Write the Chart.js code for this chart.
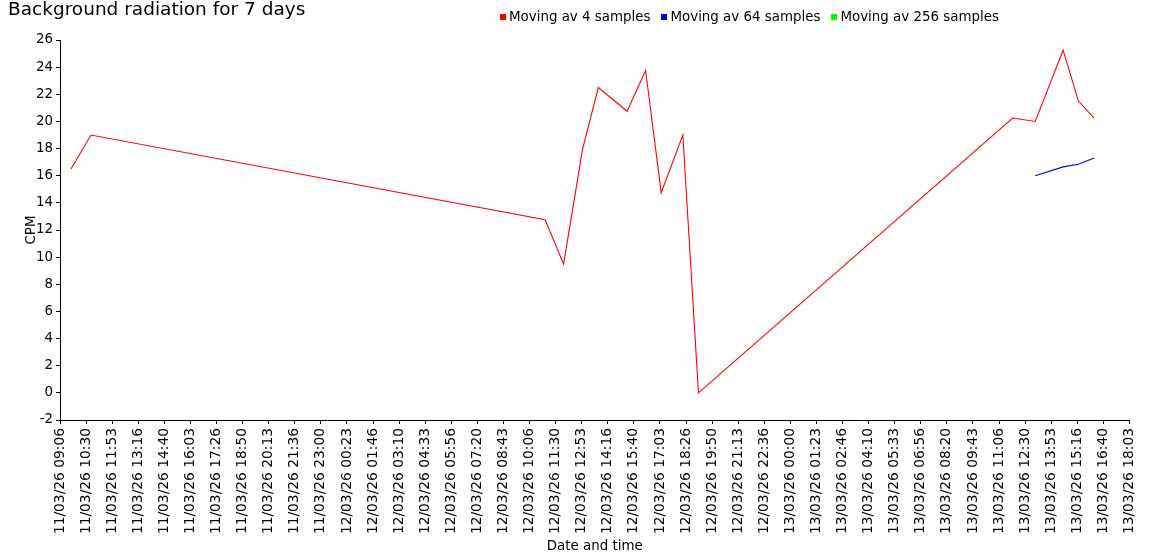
<!DOCTYPE html>
<html>
<head>
<meta charset="utf-8">
<script src="https://cdn.jsdelivr.net/npm/chart.js"></script>
<style>
	body { margin: 0; background: #fff; }
	#wrap { position: relative; width: 1150px; height: 560px; font-family: "DejaVu Sans", Verdana, sans-serif; color: #000; }
	#title { position: absolute; left: 8px; top: -2px; font-size: 18.5px; line-height: 22px; white-space: nowrap; }
	#legend { position: absolute; left: 500px; top: 9px; font-size: 13.4px; line-height: 16px; display: flex; white-space: nowrap; }
	#legend .item { display: flex; align-items: center; margin-right: 11px; }
	#legend .box { display: inline-block; width: 6px; height: 6px; margin-right: 3px; }
</style>
</head>
<body>
<div id="wrap">
	<canvas id="myChart"></canvas>
	<div id="title">Background radiation for 7 days</div>
	<div id="legend"></div>
</div>
<script>
// x axis tick labels (dd/mm/yy HH:MM)
const tickLabels = [
	"11/03/26 09:06", "11/03/26 10:30", "11/03/26 11:53", "11/03/26 13:16", "11/03/26 14:40",
	"11/03/26 16:03", "11/03/26 17:26", "11/03/26 18:50", "11/03/26 20:13", "11/03/26 21:36",
	"11/03/26 23:00", "12/03/26 00:23", "12/03/26 01:46", "12/03/26 03:10", "12/03/26 04:33",
	"12/03/26 05:56", "12/03/26 07:20", "12/03/26 08:43", "12/03/26 10:06", "12/03/26 11:30",
	"12/03/26 12:53", "12/03/26 14:16", "12/03/26 15:40", "12/03/26 17:03", "12/03/26 18:26",
	"12/03/26 19:50", "12/03/26 21:13", "12/03/26 22:36", "13/03/26 00:00", "13/03/26 01:23",
	"13/03/26 02:46", "13/03/26 04:10", "13/03/26 05:33", "13/03/26 06:56", "13/03/26 08:20",
	"13/03/26 09:43", "13/03/26 11:06", "13/03/26 12:30", "13/03/26 13:53", "13/03/26 15:16",
	"13/03/26 16:40", "13/03/26 18:03"
];

// sample times
const sampleTimes = [
	"11/03/26 09:41", "11/03/26 10:45", "12/03/26 10:56", "12/03/26 11:55", "12/03/26 12:56",
	"12/03/26 13:46", "12/03/26 15:18", "12/03/26 16:17", "12/03/26 17:07", "12/03/26 18:16",
	"12/03/26 19:06", "13/03/26 11:50", "13/03/26 13:02", "13/03/26 14:31", "13/03/26 15:20",
	"13/03/26 16:10"
];

// CPM values
const movingAv4 = [16.5, 19, 12.75, 9.5, 18, 22.5, 20.75, 23.75, 14.75, 19, 0, 20.25, 20, 25.25, 21.5, 20.25];
const movingAv64 = [null, null, null, null, null, null, null, null, null, null, null, null, 16, 16.65, 16.85, 17.3];
const movingAv256 = [];

const seriesNames = ["Moving av 4 samples", "Moving av 64 samples", "Moving av 256 samples"];
const seriesColors = ["#ff0000", "#0000ff", "#00ff00"];

const yTicks = { min: -2, max: 26, step: 2 };

function toMinutes(s) {
	const [d, t] = s.split(" ");
	const [dd, mm, yy] = d.split("/").map(Number);
	const [hh, mi] = t.split(":").map(Number);
	return Date.UTC(2000 + yy, mm - 1, dd, hh, mi) / 60000;
}

const t0 = toMinutes(tickLabels[0]);
const t1 = toMinutes(tickLabels[tickLabels.length - 1]);

function points(values) {
	return values.map((v, i) => ({ x: toMinutes(sampleTimes[i]) - t0, y: v }));
}

const font = { family: "'DejaVu Sans', Verdana, sans-serif", size: 13.4 };
const xFont = { family: "'DejaVu Sans', Verdana, sans-serif", size: 13.8 };
Chart.defaults.color = "#000";

const ctx = document.getElementById("myChart").getContext("2d");
const chart = new Chart(ctx, {
	type: "line",
	data: {
		datasets: [movingAv4, movingAv64, movingAv256].map((vals, i) => ({
			label: seriesNames[i],
			data: points(vals),
			borderColor: seriesColors[i],
			backgroundColor: seriesColors[i],
			borderWidth: 1.1,
			pointRadius: 0,
			tension: 0,
			spanGaps: false
		}))
	},
	options: {
		responsive: true,
		maintainAspectRatio: false,
		animation: false,
		layout: { padding: { top: 40, right: 20, left: 0, bottom: 0 } },
		plugins: {
			legend: { display: false },
			title: { display: false },
			tooltip: { enabled: false }
		},
		scales: {
			x: {
				type: "linear",
				min: 0,
				max: t1 - t0,
				border: { color: "#000", width: 1 },
				grid: { drawOnChartArea: false, color: "#000", tickLength: 4 },
				ticks: {
					count: tickLabels.length,
					autoSkip: false,
					maxRotation: 90,
					minRotation: 90,
					padding: 4,
					font: xFont,
					callback: function (value, index) {
						return tickLabels[index];
					}
				},
				title: {
					display: true,
					text: "Date and time",
					font: font,
					padding: { top: 0, bottom: 5 }
				},
				afterFit: function (scale) {
					scale.height = 140;
				}
			},
			y: {
				min: yTicks.min,
				max: yTicks.max,
				border: { color: "#000", width: 1 },
				grid: { drawOnChartArea: false, color: "#000", tickLength: 4 },
				ticks: { stepSize: yTicks.step, padding: 3, font: font },
				title: {
					display: true,
					text: "CPM",
					font: font,
					padding: { top: 23, bottom: 0 }
				},
				afterFit: function (scale) {
					scale.width = 60;
				}
			}
		}
	}
});

// html legend built from the datasets
const legendEl = document.getElementById("legend");
chart.data.datasets.forEach((ds) => {
	const item = document.createElement("span");
	item.className = "item";
	const box = document.createElement("span");
	box.className = "box";
	box.style.background = ds.borderColor;
	item.appendChild(box);
	item.appendChild(document.createTextNode(ds.label));
	legendEl.appendChild(item);
});
</script>
</body>
</html>
